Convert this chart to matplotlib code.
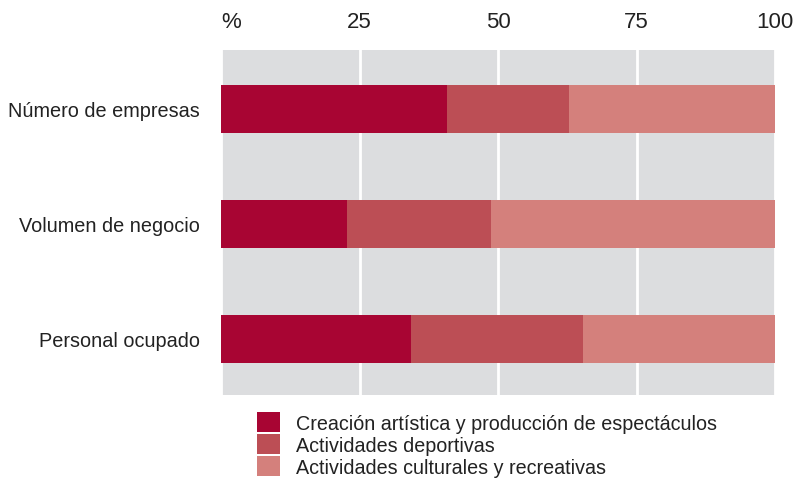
import matplotlib
matplotlib.use('Agg')
import matplotlib.pyplot as plt
from matplotlib.patches import Patch

plt.rcParams['font.family'] = ['Liberation Sans', 'DejaVu Sans']

categories = ['Número de empresas', 'Volumen de negocio', 'Personal ocupado']
series_names = ['Creación artística y producción de espectáculos',
                'Actividades deportivas',
                'Actividades culturales y recreativas']
creacion = [40.8, 22.7, 34.3]
deportivas = [22.0, 26.0, 31.0]
culturales = [37.2, 51.3, 34.7]
tick_vals = [0, 25, 50, 75, 100]
tick_labels = ['%', '25', '50', '75', '100']

colors = ['#a80533', '#bc4e55', '#d4807c']
txt = '#222222'

fig = plt.figure(figsize=(7.96, 4.81), dpi=100)
ax = fig.add_axes([221/796, 1-396/481, 554/796, 345/481])
ax.set_facecolor('#dcdddf')

ypos = list(range(len(categories)))
left = [0, 0, 0]
for vals, c in zip([creacion, deportivas, culturales], colors):
    ax.barh(ypos, vals, left=left, height=0.42, color=c, zorder=3)
    left = [l + v for l, v in zip(left, vals)]

ax.set_xlim(0, 100)
ax.set_ylim(2.49, -0.51)
ax.xaxis.tick_top()
ax.set_xticks(tick_vals)
ax.set_xticklabels(tick_labels, fontsize=16, color=txt)
ax.get_xticklabels()[0].set_ha('left')
ax.tick_params(axis='x', length=0, pad=13)
ax.grid(axis='x', color='white', linewidth=2, zorder=1)
ax.set_yticks(ypos)
ax.set_yticklabels(categories, fontsize=14.3, color=txt)
ax.tick_params(axis='y', length=0, pad=15)
for s in ax.spines.values():
    s.set_visible(False)

handles = [Patch(facecolor=c, edgecolor='none') for c in colors]
fig.legend(handles, series_names, loc='upper left',
           bbox_to_anchor=(257/796, 1-413/481), frameon=False, fontsize=14.2,
           handlelength=1.15, handleheight=1.2, labelspacing=0.06,
           handletextpad=0.82, borderpad=0, borderaxespad=0, labelcolor=txt)

fig.savefig('out.png', dpi=100)
